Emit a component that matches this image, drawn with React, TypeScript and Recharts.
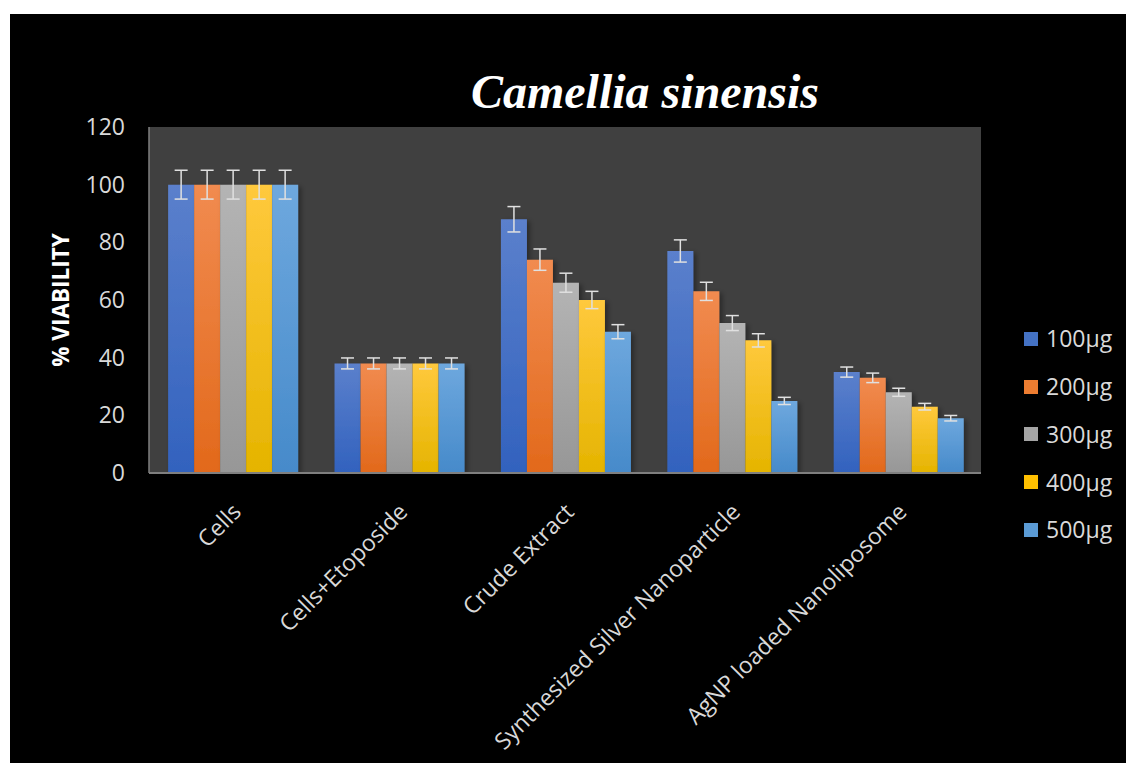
import React from 'react';
import { BarChart, Bar, XAxis, YAxis, CartesianGrid, ErrorBar, Legend } from 'recharts';

const categories = ['Cells', 'Cells+Etoposide', 'Crude Extract', 'Synthesized Silver Nanoparticle', 'AgNP loaded Nanoliposome'];
const seriesNames = ['100µg', '200µg', '300µg', '400µg', '500µg'];
const v100 = [100, 38, 88, 77, 35];
const v200 = [100, 38, 74, 63, 33];
const v300 = [100, 38, 66, 52, 28];
const v400 = [100, 38, 60, 46, 23];
const v500 = [100, 38, 49, 25, 19];
const e100 = [5, 1.9, 4.4, 3.85, 1.75];
const e200 = [5, 1.9, 3.7, 3.15, 1.65];
const e300 = [5, 1.9, 3.3, 2.6, 1.4];
const e400 = [5, 1.9, 3.0, 2.3, 1.15];
const e500 = [5, 1.9, 2.45, 1.25, 0.95];
const yTicks = [0, 20, 40, 60, 80, 100, 120];

const values = [v100, v200, v300, v400, v500];
const errors = [e100, e200, e300, e400, e500];

const data = categories.map((c, i) => {
  const row: any = { name: c };
  values.forEach((arr, s) => {
    row['s' + s] = arr[i];
    row['e' + s] = errors[s][i];
  });
  return row;
});

const solid = ['#4472C4', '#ED7D31', '#A5A5A5', '#FFC000', '#5B9BD5'];
const gradTop = ['#5B80CC', '#F18B50', '#B4B4B4', '#FFC93D', '#6EA8DE'];
const gradBot = ['#3262BE', '#E2691B', '#979797', '#E5B400', '#468ACA'];

const FONT = '"Open Sans", sans-serif';
const TXT = '#d9d9d9';

const XTick = (props: any) => {
  const { x, y, payload } = props;
  return (
    <g transform={`translate(${x + 4},${y + 34})`}>
      <text transform="rotate(-45)" textAnchor="end" dominantBaseline="central" fill={TXT} fontSize={23} fontFamily={FONT}>
        {payload.value}
      </text>
    </g>
  );
};

const renderLegend = () => (
  <div style={{ display: 'flex', flexDirection: 'column' }}>
    {seriesNames.map((s, i) => (
      <div key={s} style={{ height: 47.75, display: 'flex', alignItems: 'center' }}>
        <span style={{ display: 'inline-block', width: 14, height: 14, background: solid[i], marginRight: 8 }} />
        <span style={{ fontSize: 23, color: TXT, fontFamily: FONT, lineHeight: 1 }}>{s}</span>
      </div>
    ))}
  </div>
);

export default function App() {
  return (
    <div style={{ position: 'absolute', left: 0, top: 0, width: 1126, height: 763, background: '#fff' }}>
      <div style={{ position: 'absolute', left: 10, top: 14, width: 1116, height: 749, background: '#000' }}>
        <BarChart
          width={1116}
          height={749}
          data={data}
          margin={{ top: 113, right: 145, bottom: 0, left: 0 }}
          barCategoryGap="11.5%"
          barGap={0}
        >
          <defs>
            {solid.map((c, i) => (
              <linearGradient key={i} id={'g' + i} x1="0" y1="0" x2="0" y2="1">
                <stop offset="0%" stopColor={gradTop[i]} />
                <stop offset="100%" stopColor={gradBot[i]} />
              </linearGradient>
            ))}
            <filter id="shadow" x="-20%" y="-20%" width="160%" height="140%">
              <feDropShadow dx="3" dy="2" stdDeviation="2.5" floodColor="#000" floodOpacity="0.35" />
            </filter>
          </defs>
          <CartesianGrid horizontal={false} vertical={false} fill="#404040" />
          <XAxis
            dataKey="name"
            height={290}
            interval={0}
            tickLine={false}
            tickSize={0}
            tickMargin={0}
            axisLine={{ stroke: '#7f7f7f', strokeWidth: 2 }}
            tick={<XTick />}
          />
          <YAxis
            width={139}
            domain={[0, 120]}
            ticks={yTicks}
            tickLine={false}
            tickSize={0}
            tickMargin={24}
            axisLine={{ stroke: '#7f7f7f', strokeWidth: 1.5 }}
            tick={{ fill: TXT, fontSize: 23, fontFamily: FONT }}
          />
          <Legend
            layout="vertical"
            align="center"
            verticalAlign="middle"
            content={renderLegend}
            wrapperStyle={{ position: 'absolute', left: 1014, top: 301, width: 110 }}
          />
          {solid.map((c, i) => (
            <Bar key={i} dataKey={'s' + i} name={seriesNames[i]} fill={`url(#g${i})`} isAnimationActive={false} style={{ filter: 'url(#shadow)' }}>
              <ErrorBar dataKey={'e' + i} width={6.5} stroke="#e0e0e0" strokeWidth={1.5} direction="y" />
            </Bar>
          ))}
          <text x={635} y={94} textAnchor="middle" fill="#fff" fontSize={48} fontWeight="bold" fontStyle="italic" fontFamily='"Liberation Serif", serif'>
            Camellia sinensis
          </text>
          <text
            x={50}
            y={286}
            transform="rotate(-90 50 286)"
            textAnchor="middle"
            dominantBaseline="central"
            fill="#fff"
            fontSize={22.5}
            fontWeight="bold"
            fontFamily={FONT}
          >
            % VIABILITY
          </text>
        </BarChart>
      </div>
    </div>
  );
}
